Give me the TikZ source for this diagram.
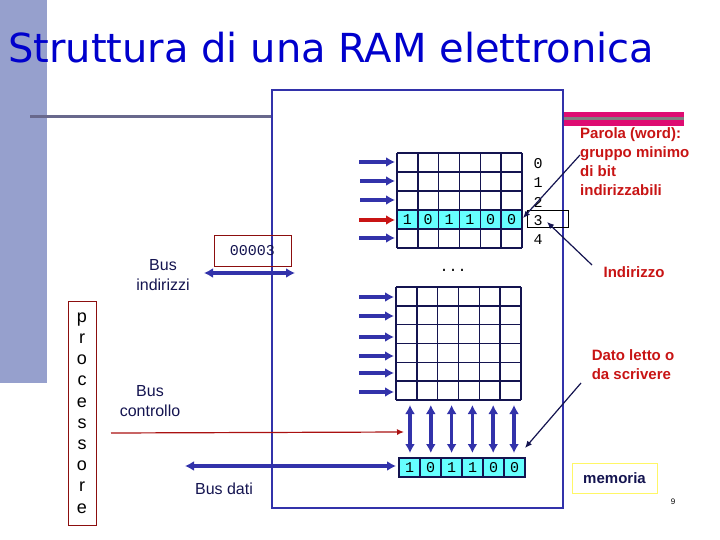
\documentclass[tikz,border=0pt]{standalone}
\usepackage{fontspec}
\setmainfont{Liberation Sans}
\newfontfamily\titlefont{DejaVu Sans}
\newfontfamily\monof{Liberation Mono}
\usetikzlibrary{arrows.meta}
\definecolor{navy}{RGB}{50,50,170}
\definecolor{darkn}{RGB}{20,20,80}
\definecolor{cyanc}{RGB}{102,255,255}
\definecolor{redt}{RGB}{200,20,20}
\definecolor{lav}{RGB}{150,160,205}
\begin{document}
\begin{tikzpicture}[x=1pt,y=-1pt,
  barr/.style={navy,line width=3.5pt,-{Latex[length=9pt,width=10pt]}},
  dbarr/.style={navy,line width=3.5pt,{Latex[length=9pt,width=10pt]}-{Latex[length=9pt,width=10pt]}},
  thinarr/.style={darkn,line width=1.2pt,-{Latex[length=7pt,width=6pt]}},
  lbl/.style={font=\fontsize{16}{20}\selectfont,text=darkn,align=center,inner sep=0},
  rlbl/.style={font=\fontsize{15}{19}\selectfont\bfseries,text=redt,align=left,inner sep=0},
  mono/.style={font=\monof\fontsize{15}{15}\selectfont,inner sep=0}]
\useasboundingbox (0,0) rectangle (720,540);
\fill[lav] (0,0) rectangle (47,383);
\draw[gray!70!navy,line width=3pt] (30,117) -- (272,117);
\fill[redt!60!magenta] (563,112) rectangle (684,126);
\fill[gray] (563,117) rectangle (684,120);
\node[anchor=west,inner sep=0,text=blue!80!black,font=\titlefont\fontsize{40}{40}\selectfont] (title) at (8,48) {Struttura di una RAM elettronica};
\draw[navy,line width=2.5pt,fill=white] (272,90) rectangle (563,508);
% top grid
\fill[cyanc] (397,210) rectangle (522,229);
\foreach \i in {0,...,6} \draw[darkn,line width=1.5pt] (397+\i*20.83,153) -- (397+\i*20.83,248);
\foreach \j in {0,...,5} \draw[darkn,line width=1.5pt] (397,153+\j*19) -- (522,153+\j*19);
\foreach \b [count=\i from 0] in {1,0,1,1,0,0}
  \node[mono] (tb\i) at (407.4+\i*20.83,219.5) {\b};
\foreach \n [count=\i from 0] in {0,1,2,3,4}
  \node[mono] (rn\i) at (538,164+\i*19) {\n};
\draw[black,line width=0.8pt] (527,210) rectangle (568,227);
\draw[barr] (359,162) -- (395,162);
\draw[barr] (360,181) -- (395,181);
\draw[barr] (360,200) -- (395,200);
\draw[redt,line width=3.5pt,-{Latex[length=9pt,width=10pt]}] (359,220) -- (395,220);
\draw[barr] (359,238) -- (395,238);
\node[mono] (dots) at (453,270) {...};
% bottom grid
\foreach \i in {0,...,6} \draw[darkn,line width=1.5pt] (396+\i*20.83,287) -- (396+\i*20.83,400);
\foreach \j in {0,...,6} \draw[darkn,line width=1.5pt] (396,287+\j*18.83) -- (521,287+\j*18.83);
\foreach \y in {297,316,337,356,373,392}
  \draw[barr] (359,\y) -- (394,\y);
% data register
\draw[fill=cyanc,draw=darkn,line width=1.5pt] (399,458) rectangle (525,477);
\foreach \b [count=\i from 0] in {1,0,1,1,0,0}{
  \ifnum\i>0 \draw[darkn,line width=1.5pt] (399+\i*21,458) -- (399+\i*21,477);\fi
  \node[mono] (db\i) at (409.5+\i*21,468) {\b};
  \draw[dbarr] (410+\i*20.8,405) -- (410+\i*20.8,453);}
% buses
\node[draw=redt!70!black,line width=0.8pt,minimum width=77pt,minimum height=31pt,inner sep=0,font=\monof\fontsize{15}{15}\selectfont,text=darkn] (addr) at (252.5,250.5) {00003};
\draw[dbarr] (204,273) -- (295,273);
\node[lbl] (bi) at (163,275) {Bus\\indirizzi};
\draw[redt!85!black,line width=1.2pt,-{Latex[length=7pt,width=6pt]}] (111,433) -- (404,432);
\node[lbl] (bc) at (150,401) {Bus\\controllo};
\draw[dbarr] (185,466) -- (396,466);
\node[lbl] (bd) at (224,489) {Bus dati};
\node[draw=redt!70!black,line width=0.8pt,minimum width=28pt,minimum height=224pt,inner sep=0,font=\fontsize{18}{21.2}\selectfont,align=center] (proc) at (82,413) {p\\r\\o\\c\\e\\s\\s\\o\\r\\e};
% annotations
\node[rlbl,anchor=north west] (parola) at (580,127) {Parola (word):\\gruppo minimo\\di bit\\indirizzabili};
\draw[thinarr] (580,155) -- (523,218);
\node[rlbl] (ind) at (634,272) {Indirizzo};
\draw[thinarr] (592,265) -- (547,222);
\node[rlbl] (dato) at (633,365) {Dato letto o\\da scrivere};
\draw[thinarr] (581,383) -- (525,448);
\node[draw=yellow!60,line width=0.6pt,minimum width=85pt,minimum height=30pt,inner sep=0,font=\fontsize{15}{15}\selectfont\bfseries,text=darkn] (mem) at (614.5,478) {memoria};
\node[font=\fontsize{8}{8}\selectfont,inner sep=0] (pg) at (673,502) {9};
\end{tikzpicture}
\end{document}
